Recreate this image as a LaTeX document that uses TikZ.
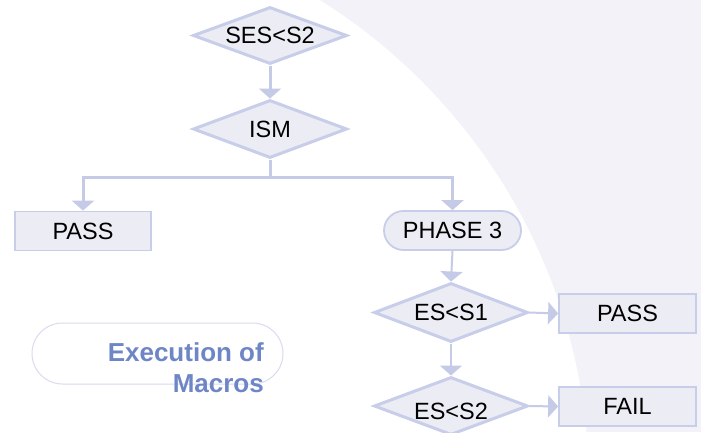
\documentclass[tikz,border=0pt]{standalone}
\usepackage{fontspec}
\setmainfont{Liberation Sans}
\usetikzlibrary{shapes.geometric,arrows.meta}
\definecolor{bgl}{RGB}{242,242,248}
\definecolor{nfill}{RGB}{236,237,244}
\definecolor{nbord}{RGB}{200,205,233}
\definecolor{conncol}{RGB}{197,202,230}
\definecolor{exectext}{RGB}{111,134,198}
\definecolor{execbord}{RGB}{216,220,238}
\begin{document}
\begin{tikzpicture}[x=1pt,y=-1pt,
  lbl/.style={font=\fontsize{23.5}{27}\selectfont, text=black},
  dia/.style={lbl, diamond, aspect=2.7, minimum width=154pt, minimum height=57pt,
    inner sep=0pt, fill=nfill, draw=nbord, line width=3pt},
  box/.style={lbl, rectangle, minimum width=136pt, minimum height=39pt,
    inner sep=0pt, fill=nfill, draw=nbord, line width=1.8pt},
  pill/.style={box, rounded corners=19.5pt},
  tip/.style={-{Triangle[width=22pt,length=10pt]}},
  thickconn/.style={draw=conncol, line width=3pt},
  thinconn/.style={draw=conncol, line width=2pt},
  exectxt/.style={font=\fontsize{26}{31}\selectfont\bfseries, text=exectext, inner sep=0pt}
]
\useasboundingbox (0,0) rectangle (701,432);
\clip (0,0) rectangle (701,432);
% background
\fill[bgl] (0,0) rectangle (701,432);
\fill[white] (16,486) circle[radius=573pt];

% nodes
\node[dia] (d1) at (270,35.5) {SES<S2};
\node[dia, minimum height=58pt] (d2) at (270,129) {ISM};
\node[box] (pass1) at (83,231) {PASS};
\node[pill, minimum width=137pt] (ph3) at (452.5,230.5) {PHASE 3};
\node[dia, minimum height=59pt] (d3) at (451,312.5) {ES<S1};
\node[box, minimum width=137pt] (pass2) at (627.5,313.5) {PASS};
\node[dia, minimum height=58pt] (d4) at (451,406) {\raisebox{-13pt}[0pt][0pt]{ES<S2}};
\node[box, minimum width=137pt] (fail) at (627.5,406.5) {FAIL};

\node[rectangle, rounded corners=30.5pt, minimum width=251pt, minimum height=61pt,
  draw=execbord, line width=1pt] (execbox) at (157.5,353.5) {};
\node[exectxt, anchor=base east] (exec1) at (264,361.5) {Execution of};
\node[exectxt, anchor=base east] (exec2) at (264,392.5) {Macros};

% connectors
\coordinate (j) at (270,177);
\draw[thickconn, tip] (d1.south) -- (d2.north);
\draw[thickconn] (d2.south) -- (j);
\draw[thickconn, tip] (j) -| (pass1.north);
\draw[thickconn, tip] (j) -| (ph3.north);
\draw[thinconn, tip] (ph3.south) -- (d3.north);
\draw[thinconn, tip] (d3.east) -- (pass2.west);
\draw[thinconn, tip] (d3.south) -- (d4.north);
\draw[thinconn, tip] (d4.east) -- (fail.west);
\end{tikzpicture}
\end{document}
